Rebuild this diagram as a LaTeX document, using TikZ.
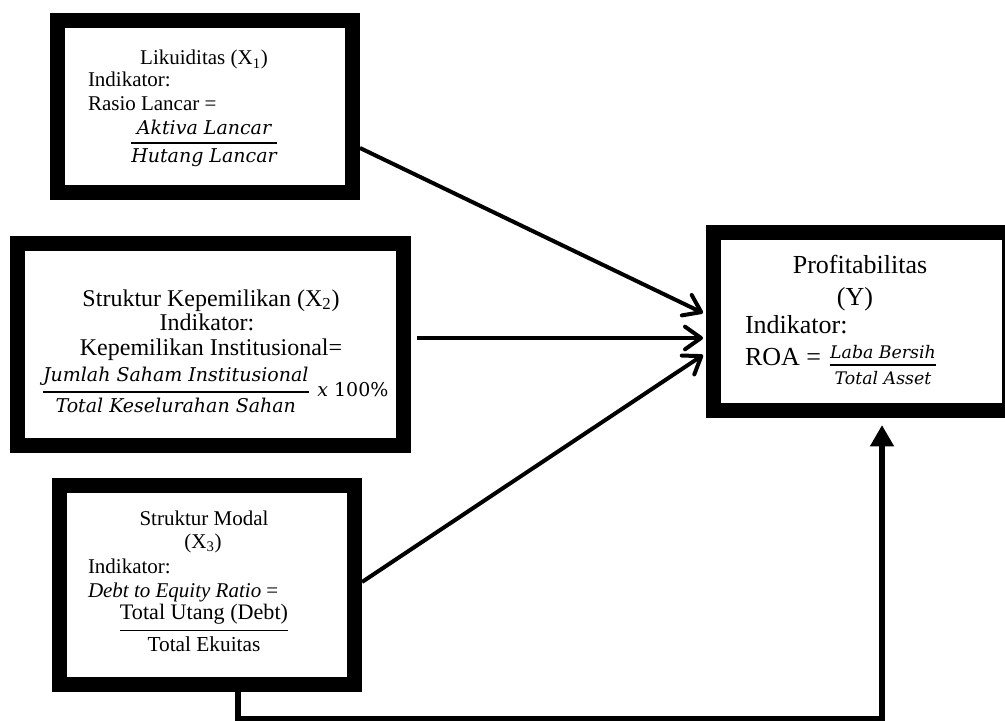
\documentclass[tikz,border=0pt]{standalone}
\usepackage{amsmath}
\usepackage{fontspec}
\setmainfont{Liberation Serif}
\newfontfamily\frfont{DejaVu Serif}
\usetikzlibrary{arrows.meta,calc}
\newcommand{\Frac}[2]{\ensuremath{\genfrac{}{}{1.3pt}{0}{\hbox{#1}}{\hbox{#2}}}}
\newcommand{\szA}{\fontsize{15.75}{18}\selectfont}
\newcommand{\szB}{\fontsize{18}{21}\selectfont}
\newcommand{\szD}{\fontsize{19.5}{23}\selectfont}
\tikzset{
  box/.style={draw=black, line width=11.5pt, fill=white, inner sep=0pt, outer sep=0pt, rectangle},
  lbl/.style={inner sep=0pt, outer sep=0pt, anchor=base, text=black},
  lbll/.style={lbl, anchor=base west},
  link/.style={line width=3pt, -{Straight Barb[length=12pt,width=17pt,round]}},
  mainlink/.style={line width=4.9pt, -{Triangle[length=16pt,width=17pt]}},
}
\begin{document}
\begin{tikzpicture}[x=0.75pt,y=-0.75pt]
\useasboundingbox (0,0) rectangle (1005,720);
\clip (0,0) rectangle (1005,720);
\fill[white] (0,0) rectangle (1005,720);
% boxes
\node[box, minimum width=221.25pt, minimum height=129pt] (b1) at (205,106.5) {};
\node[box, minimum width=289.5pt, minimum height=151.5pt] (b2) at (210.5,344.5) {};
\node[box, minimum width=221.25pt, minimum height=149.25pt] (b3) at (207,585) {};
\node[box, minimum width=222pt, minimum height=133.5pt] (b4) at (861.5,321.5) {};
% box 1 text
\node[lbl, font=\szA] (t1a) at (204,65) {Likuiditas (X\textsubscript{1})};
\node[lbll, font=\szA] (t1b) at (88,87) {Indikator:};
\node[lbll, font=\szA] (t1c) at (88,111) {Rasio Lancar =};
\node[lbl, font=\fontsize{14.25}{17}\selectfont] (t1d) at (204,147.75)
  {\Frac{\frfont\itshape Aktiva Lancar}{\frfont\itshape Hutang Lancar}};
% box 2 text
\node[lbl, font=\szB] (t2a) at (211,306) {Struktur Kepemilikan (X\textsubscript{2})};
\node[lbl, font=\szB] (t2b) at (207,330) {Indikator:};
\node[lbl, font=\szB] (t2c) at (211,355) {Kepemilikan Institusional=};
\node[lbll, font=\fontsize{14.25}{17}\selectfont] (t2d) at (41.4,396.75)
  {\Frac{\frfont\itshape Jumlah Saham Institusional}{\frfont\itshape Total Keselurahan Sahan}\hspace{5.5pt}{\frfont\itshape x}\hspace{4.5pt}{\frfont 100\%}};
% box 3 text
\node[lbl, font=\szA] (t3a) at (204,525) {Struktur Modal};
\node[lbl, font=\szA] (t3b) at (203,548) {(X\textsubscript{3})};
\node[lbll, font=\szA] (t3c) at (88,573) {Indikator:};
\node[lbll, font=\szA] (t3d) at (88,597) {\textit{Debt to Equity Ratio} =};
\node[lbl, font=\szA] (t3e) at (204,635.25)
  {\Frac{\fontsize{16.6}{19}\selectfont Total Utang (Debt)}{\fontsize{16}{19}\selectfont Total Ekuitas}};
% box 4 text
\node[lbl, font=\szD] (t4a) at (860,273) {Profitabilitas};
\node[lbl, font=\szD] (t4b) at (855,305) {(Y)};
\node[lbll, font=\szD] (t4c) at (745,333) {Indikator:};
\node[lbll, font=\szD] (t4d) at (745,365) {ROA =};
\node[lbl, font=\fontsize{13}{16}\selectfont] (t4e) at (883,369.3)
  {\Frac{\frfont\itshape Laba Bersih}{\frfont\itshape Total Asset}};
% connectors
\draw[link] ($(b1.east)+(7.5,41.5)$) -- ($(b4.west)+(-10.5,-8.5)$);
\draw[link] ($(b2.east)+(13.5,-6.5)$) -- ($(b4.west)+(-10.5,16.5)$);
\draw[link] ($(b3.east)+(7.5,-3)$) -- ($(b4.west)+(-10.5,33.5)$);
\draw[mainlink] ($(b3.south)+(31,7.5)$) |- ($(b4.south)+(20.5,308.5)$) -- ($(b4.south)+(20.5,14.5)$);
\end{tikzpicture}
\end{document}
